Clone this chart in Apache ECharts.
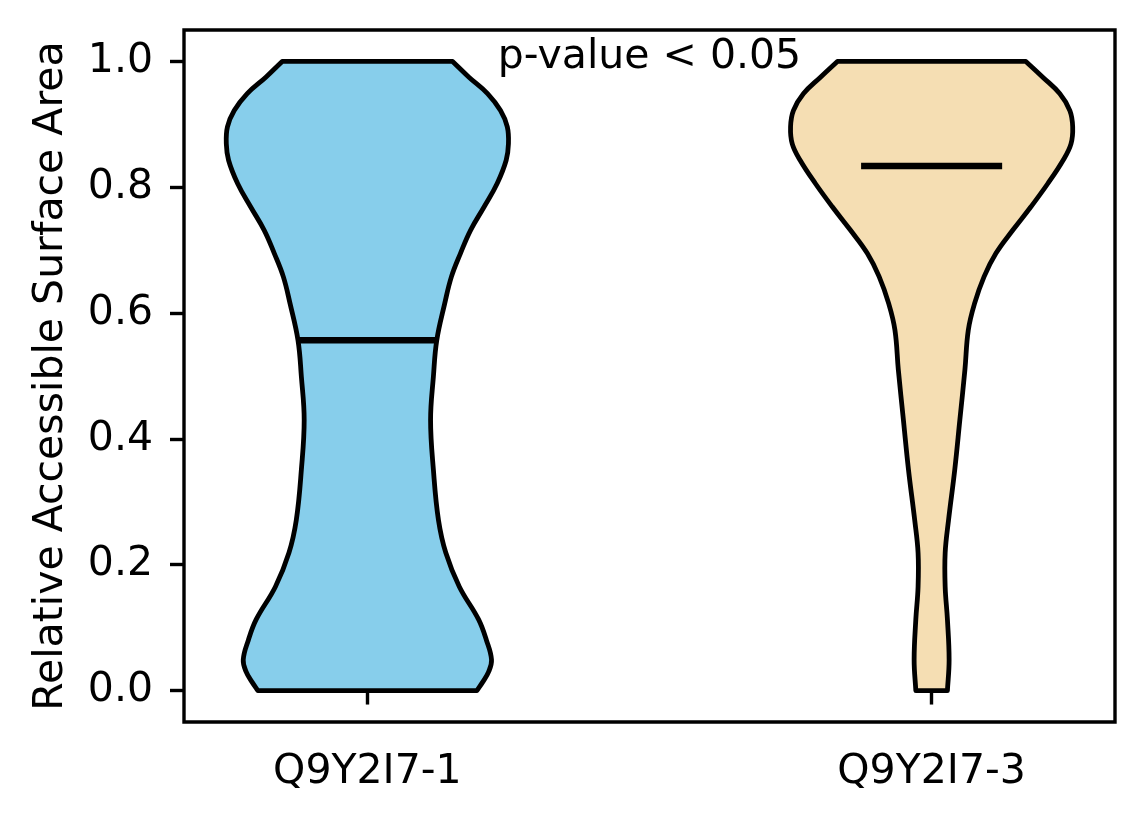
<!DOCTYPE html>
<html>
<head>
<meta charset="utf-8">
<script src="https://cdn.jsdelivr.net/npm/echarts@6/dist/echarts.min.js"></script>
<style>
html,body{margin:0;padding:0;background:#fff;}
#chart{width:1144px;height:824px;}
</style>
</head>
<body>
<div id="chart"></div>
<script>
// ---- data ----
const categories = ['Q9Y2I7-1', 'Q9Y2I7-3'];
const positions = [1, 2];
const colors = ['#87CEEB', '#F5DEB3'];
const medians = [0.557, 0.834];
// violin outline: y value and half-width (x data units)
const violin1Y  = [0, 0.013, 0.03, 0.049, 0.08, 0.113, 0.165, 0.219, 0.271, 0.351, 0.43, 0.499, 0.557, 0.615, 0.658, 0.695, 0.732, 0.769, 0.806, 0.843, 0.869, 0.896, 0.922, 0.949, 0.975, 1.0];
const violin1HW = [0.194, 0.204, 0.215, 0.220, 0.211, 0.197, 0.163, 0.139, 0.126, 0.117, 0.112, 0.117, 0.123, 0.137, 0.149, 0.165, 0.183, 0.207, 0.230, 0.246, 0.25, 0.248, 0.236, 0.213, 0.180, 0.151];
const violin2Y  = [0, 0.049, 0.113, 0.165, 0.219, 0.271, 0.351, 0.43, 0.51, 0.573, 0.615, 0.658, 0.695, 0.732, 0.769, 0.806, 0.843, 0.869, 0.896, 0.922, 0.949, 0.975, 1.0];
const violin2HW = [0.028, 0.031, 0.028, 0.024, 0.024, 0.030, 0.041, 0.050, 0.059, 0.065, 0.076, 0.093, 0.114, 0.144, 0.176, 0.206, 0.233, 0.247, 0.25, 0.245, 0.227, 0.197, 0.167];
const yTicks = [0, 0.2, 0.4, 0.6, 0.8, 1.0];
const annotationText = 'p-value < 0.05';
const annotationPos = [1.5, 1.0];

const violins = [
  {y: violin1Y, hw: violin1HW},
  {y: violin2Y, hw: violin2HW}
];
const medianHalf = 0.125;

const FONT = 'DejaVu Sans';
const FS = 41;

const chart = echarts.init(document.getElementById('chart'), null, {renderer: 'canvas'});

function renderViolin(params, api) {
  const i = params.dataIndex;
  const pos = positions[i];
  const v = violins[i];
  const n = v.y.length;
  const pts = [];
  // left side bottom -> top
  for (let k = 0; k < n; k++) {
    const p = api.coord([pos - v.hw[k], v.y[k]]);
    pts.push(p);
    if (k === 0 || k === n - 1) pts.push(p.slice());
  }
  // right side top -> bottom
  for (let k = n - 1; k >= 0; k--) {
    const p = api.coord([pos + v.hw[k], v.y[k]]);
    pts.push(p);
    if (k === 0 || k === n - 1) pts.push(p.slice());
  }
  const m0 = api.coord([pos - medianHalf, medians[i]]);
  const m1 = api.coord([pos + medianHalf, medians[i]]);
  return {
    type: 'group',
    children: [
      {
        type: 'polygon',
        shape: {points: pts, smooth: 0.4},
        style: {fill: colors[i], stroke: '#000', lineWidth: 4.8, lineJoin: 'round'}
      },
      {
        type: 'line',
        shape: {x1: m0[0], y1: m0[1], x2: m1[0], y2: m1[1]},
        style: {stroke: '#000', lineWidth: 6.5}
      }
    ]
  };
}

function renderText(params, api) {
  const p = api.coord(annotationPos);
  return {
    type: 'text',
    x: p[0],
    y: p[1] - 4,
    style: {
      text: annotationText,
      font: FS + 'px "' + FONT + '"',
      fill: '#000',
      align: 'center',
      verticalAlign: 'middle'
    }
  };
}

const option = {
  animation: false,
  backgroundColor: '#fff',
  grid: {
    left: 184, right: 29, top: 30, bottom: 102,
    show: true, borderColor: '#000', borderWidth: 3.4, backgroundColor: 'transparent'
  },
  xAxis: {
    type: 'value',
    min: 0.675,
    max: 2.325,
    axisLine: {show: false},
    splitLine: {show: false},
    axisTick: {show: true, customValues: positions, length: 14, lineStyle: {color: '#000', width: 3.4}},
    axisLabel: {
      show: true,
      customValues: positions,
      margin: 30,
      color: '#000',
      fontFamily: FONT,
      fontSize: FS,
      formatter: function (val) {
        const idx = positions.indexOf(Math.round(val));
        return idx >= 0 ? categories[idx] : '';
      }
    }
  },
  yAxis: {
    type: 'value',
    min: -0.05,
    max: 1.05,
    name: 'Relative Accessible Surface Area',
    nameLocation: 'middle',
    nameGap: 112,
    nameTextStyle: {color: '#000', fontFamily: FONT, fontSize: FS},
    axisLine: {show: false},
    splitLine: {show: false},
    axisTick: {show: true, customValues: yTicks, length: 14, lineStyle: {color: '#000', width: 3.4}},
    axisLabel: {
      show: true,
      customValues: yTicks,
      margin: 31,
      color: '#000',
      fontFamily: FONT,
      fontSize: FS,
      formatter: function (val) { return val.toFixed(1); }
    }
  },
  series: [
    {
      type: 'custom',
      renderItem: renderViolin,
      data: positions.map(function (p, i) { return [p, medians[i]]; }),
      encode: {x: 0, y: 1},
      clip: false,
      z: 2
    },
    {
      type: 'custom',
      renderItem: renderText,
      data: [annotationPos],
      encode: {x: 0, y: 1},
      clip: false,
      z: 3
    }
  ]
};
chart.setOption(option);
</script>
</body>
</html>
